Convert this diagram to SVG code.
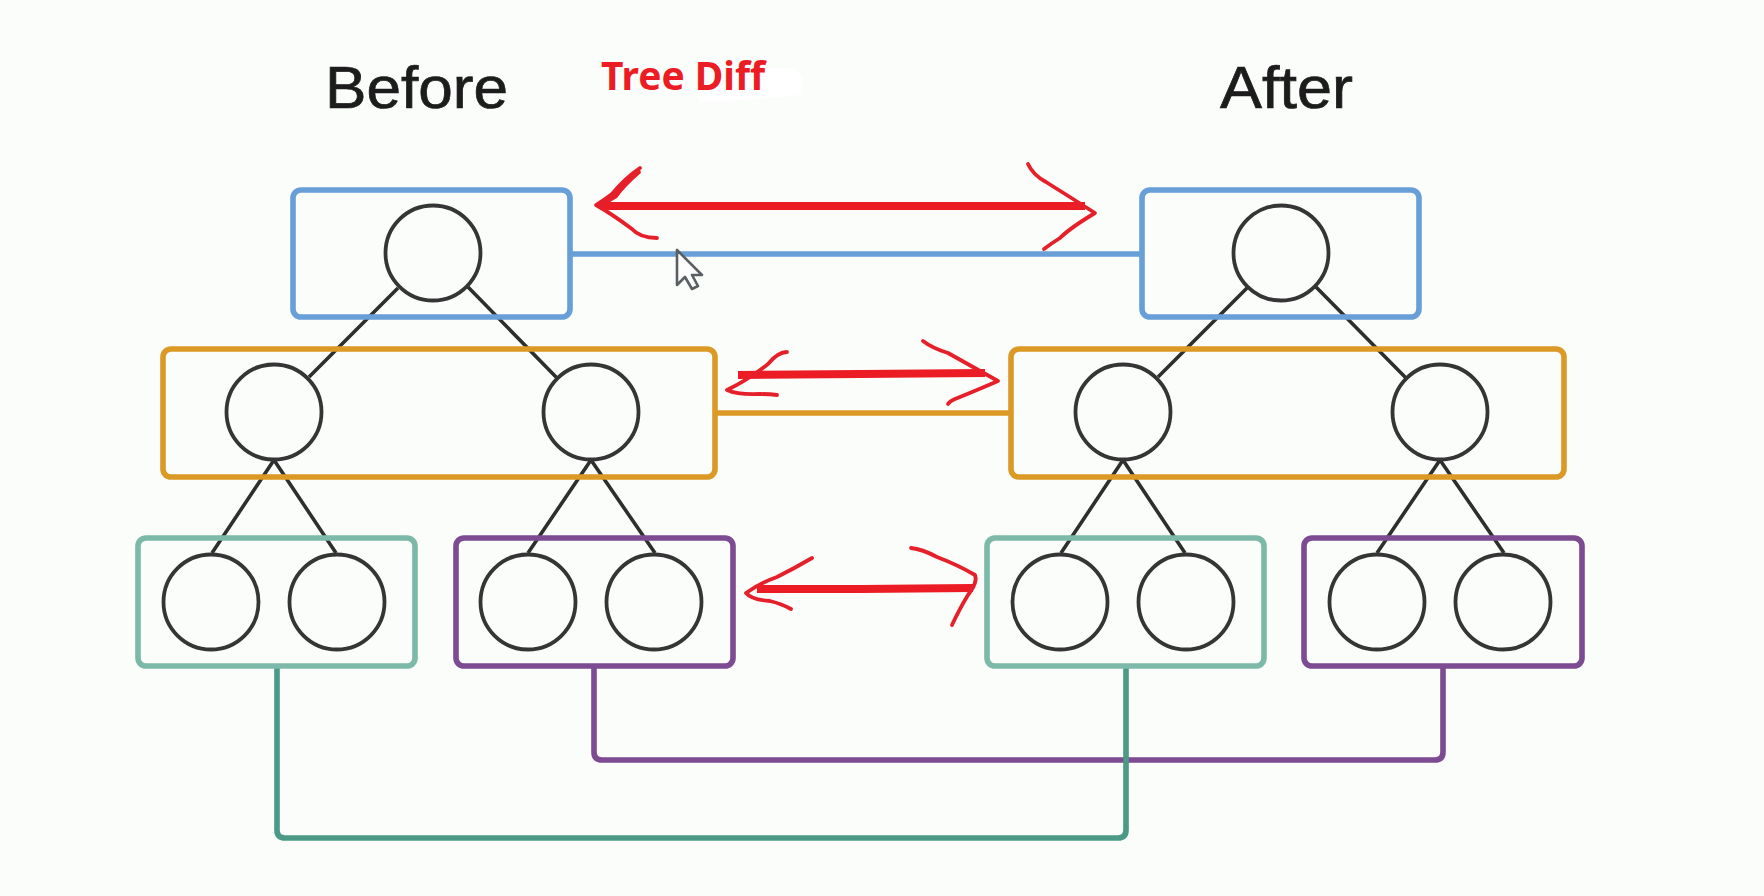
<svg xmlns="http://www.w3.org/2000/svg" width="1764" height="896" viewBox="0 0 1764 896">
<style>
.soft{filter:url(#soft)}
.n{fill:none;stroke:#363636;stroke-width:3.8}
.e{fill:none;stroke:#2e2e2e;stroke-width:3.6}
.b{fill:none;stroke-width:5.6}
.blue{stroke:#689fd6}
.orange{stroke:#db9a25}
.teal{stroke:#7cb9a9}
.purple{stroke:#7c4b91}
.dteal{stroke:#4b9a85}
.h{font-family:"Liberation Sans",Arial,sans-serif;font-size:60px;fill:#1c1c1c;stroke:#1c1c1c;stroke-width:.7}
.t{font-family:"Noto Sans","Open Sans",sans-serif;font-weight:700;font-size:39px;fill:#ec1c24}
.shaft{fill:none;stroke:#ec1c24;stroke-width:8}
.barb{fill:none;stroke:#e5202a;stroke-width:3.8;stroke-linecap:round;stroke-linejoin:round}
</style>
<defs><filter id="soft" x="-5%" y="-5%" width="110%" height="110%"><feGaussianBlur stdDeviation="0.7"/></filter></defs>
<rect id="background" width="1764" height="896" fill="#fbfdfb"/>
<path id="erased-patch" d="M696 92L728 84L738 69L790 68L803 76L800 95L740 100L700 102Z" fill="#ffffff"/>
<g id="titles" class="soft">
<text id="title-before" class="h" x="325" y="108" textLength="183" lengthAdjust="spacingAndGlyphs">Before</text>
<text id="title-after" class="h" x="1220" y="108" textLength="133" lengthAdjust="spacingAndGlyphs">After</text>
</g>
<text id="title-tree-diff" class="t" x="601" y="90" textLength="164" lengthAdjust="spacingAndGlyphs">Tree Diff</text>

<g id="tree-edges" class="soft">
<path class="e" d="M398 288L309 377M468 287L557 378M274 460L212 553M274 460L336 553M591 460L528 553M591 460L655 553"/>
<path class="e" d="M1247 288L1158 377M1316 287L1406 378M1123 460L1061 553M1123 460L1185 553M1440 460L1377 553M1440 460L1504 553"/>
</g>

<g id="connectors" class="soft">
<path id="conn-blue" class="b blue" d="M570 254H1143"/>
<path id="conn-orange" class="b orange" d="M714 413H1012"/>
<path id="conn-purple" class="b purple" d="M594 666V752Q594 760 602 760H1435Q1443 760 1443 752V666"/>
<path id="conn-teal" class="b dteal" d="M277 666V830Q277 838 285 838H1118Q1126 838 1126 830V666"/>
</g>

<g id="before" class="soft">
<g id="before-level-1"><rect class="b blue" x="293" y="190" width="277" height="127" rx="8"/></g>
<g id="before-level-2"><rect class="b orange" x="163" y="349" width="552" height="128" rx="8"/></g>
<g id="before-level-3a"><rect class="b teal" x="138" y="538" width="277" height="128" rx="8"/></g>
<g id="before-level-3b"><rect class="b purple" x="456" y="538" width="277" height="128" rx="8"/></g>
<g id="before-n1"><circle class="n" cx="433" cy="253" r="47.5"/></g>
<g id="before-n2"><circle class="n" cx="274" cy="412" r="47.5"/></g>
<g id="before-n3"><circle class="n" cx="591" cy="412" r="47.5"/></g>
<g id="before-n4"><circle class="n" cx="211" cy="602" r="47.5"/></g>
<g id="before-n5"><circle class="n" cx="337" cy="602" r="47.5"/></g>
<g id="before-n6"><circle class="n" cx="528" cy="602" r="47.5"/></g>
<g id="before-n7"><circle class="n" cx="654" cy="602" r="47.5"/></g>
</g>

<g id="after" class="soft">
<g id="after-level-1"><rect class="b blue" x="1142" y="190" width="277" height="127" rx="8"/></g>
<g id="after-level-2"><rect class="b orange" x="1011" y="349" width="553" height="128" rx="8"/></g>
<g id="after-level-3a"><rect class="b teal" x="987" y="538" width="277" height="128" rx="8"/></g>
<g id="after-level-3b"><rect class="b purple" x="1304" y="538" width="278" height="128" rx="8"/></g>
<g id="after-n1"><circle class="n" cx="1281" cy="253" r="47.5"/></g>
<g id="after-n2"><circle class="n" cx="1123" cy="412" r="47.5"/></g>
<g id="after-n3"><circle class="n" cx="1440" cy="412" r="47.5"/></g>
<g id="after-n4"><circle class="n" cx="1060" cy="602" r="47.5"/></g>
<g id="after-n5"><circle class="n" cx="1186" cy="602" r="47.5"/></g>
<g id="after-n6"><circle class="n" cx="1377" cy="602" r="47.5"/></g>
<g id="after-n7"><circle class="n" cx="1503" cy="602" r="47.5"/></g>
</g>

<g id="cursor" class="soft">
<path d="M677 250L677 285L685 277L692 289L698 286L692 275L702 275Z" fill="#fcfdfc" stroke="#5a5f63" stroke-width="2.6" stroke-linejoin="round"/>
</g>

<g id="red-arrows">
<path class="shaft" d="M600 206H1085"/>
<path class="barb" d="M640 168Q625 178 612 194Q604 200 596 205Q612 214 632 229Q640 238 657 238"/>
<path class="barb" style="stroke-width:5.5" d="M638 172Q624 184 615 196L600 205"/>
<path class="barb" d="M1028 164Q1033 175 1046 182Q1070 197 1095 213Q1070 228 1060 238Q1052 243 1044 249"/>

<path class="shaft" d="M738 375L860 374L985 373"/>
<path class="barb" d="M787 352Q778 352 768 364Q748 380 727 390Q738 395 760 394Q770 394 777 395"/>
<path class="barb" d="M923 341Q932 348 948 353Q975 368 998 381Q975 391 955 399Q950 401 948 404"/>

<path class="shaft" d="M757 589L860 589L973 588"/>
<path class="barb" d="M812 558Q795 568 777 577Q760 583 746 593Q752 600 770 601Q782 604 791 609"/>
<path class="barb" d="M911 548Q922 549 937 557Q958 565 975 575Q978 582 968 595Q960 608 952 625"/>
</g>
</svg>
